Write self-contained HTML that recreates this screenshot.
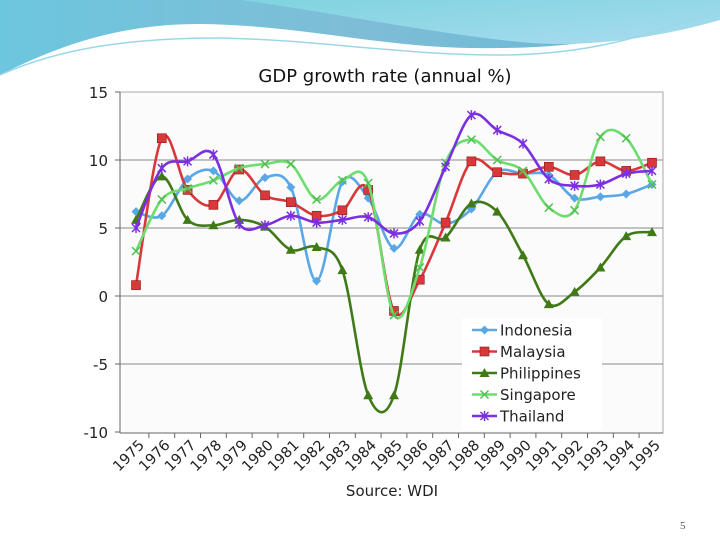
<!DOCTYPE html>
<html><head><meta charset="utf-8"><style>
body{margin:0;background:#fff;}
svg{display:block;font-family:"DejaVu Sans","Liberation Sans",sans-serif;}
</style></head><body>
<svg id="s" width="720" height="540" viewBox="0 0 720 540">
<defs>
<linearGradient id="g1" x1="0" y1="0" x2="1" y2="0"><stop offset="0" stop-color="#6cc6de"/><stop offset="0.5" stop-color="#7fbdd6"/><stop offset="1" stop-color="#5fb8d8"/></linearGradient>
<linearGradient id="g2" x1="0" y1="0" x2="1" y2="1"><stop offset="0" stop-color="#7fd3e0"/><stop offset="1" stop-color="#a8dcef"/></linearGradient>
</defs>
<g>
<path d="M0,0 H720 V10 C650,30 600,50 470,48 C380,47 300,25 200,24 C120,24 60,45 0,75 Z" fill="url(#g1)"/>
<path d="M240,0 H720 V20 C650,40 580,48 520,42 C420,32 320,10 240,0 Z" fill="url(#g2)"/>
<path d="M0,75 C60,48 130,38 220,38 C320,40 400,55 500,55 C600,55 660,30 720,10" fill="none" stroke="#9ad8e6" stroke-width="1.5"/>
</g>
<text x="385" y="82" text-anchor="middle" font-size="18" fill="#111">GDP growth rate (annual %)</text>
<rect x="120" y="92" width="543" height="341" fill="#fbfbfb" stroke="#aaa" stroke-width="1"/>
<g id="grid"></g><g id="axes"></g><g id="series"></g>
<g id="legend"></g>
<text x="392" y="496" text-anchor="middle" font-size="15" fill="#222">Source: WDI</text>
<text x="680" y="529" font-size="11" fill="#555" font-family="Liberation Serif,serif">5</text>
</svg>
<script>
const years=["1975","1976","1977","1978","1979","1980","1981","1982","1983","1984","1985","1986","1987","1988","1989","1990","1991","1992","1993","1994","1995"];
const yTicks=[15,10,5,0,-5,-10];
const seriesNames=["Indonesia","Malaysia","Philippines","Singapore","Thailand"];
const indonesia=[6.2,5.9,8.6,9.2,7.0,8.7,8.0,1.1,8.4,7.2,3.5,6.0,5.3,6.4,9.1,9.0,8.9,7.2,7.3,7.5,8.2];
const malaysia=[0.8,11.6,7.8,6.7,9.3,7.4,6.9,5.9,6.3,7.8,-1.1,1.2,5.4,9.9,9.1,9.0,9.5,8.9,9.9,9.2,9.8];
const philippines=[5.6,8.8,5.6,5.2,5.6,5.1,3.4,3.6,1.9,-7.3,-7.3,3.4,4.3,6.8,6.2,3.0,-0.6,0.3,2.1,4.4,4.7];
const singapore=[3.3,7.1,7.9,8.5,9.4,9.7,9.7,7.1,8.5,8.3,-1.4,2.1,9.8,11.5,10.0,9.2,6.5,6.3,11.7,11.6,8.2];
const thailand=[5.0,9.4,9.9,10.4,5.3,5.2,5.9,5.4,5.6,5.8,4.6,5.5,9.5,13.3,12.2,11.2,8.6,8.1,8.2,9.0,9.2];
const NS="http://www.w3.org/2000/svg";
const X=i=>136+i*(652-136)/(years.length-1);
const Y=v=>296-v*(296-92)/15;
function mk(t,a,p){const e=document.createElementNS(NS,t);for(const k in a)e.setAttribute(k,a[k]);p.appendChild(e);return e;}
const grid=document.getElementById('grid'),axes=document.getElementById('axes'),ser=document.getElementById('series'),leg=document.getElementById('legend');
yTicks.forEach(v=>{
 if(v>-10&&v<15){const l=mk('line',{x1:120,x2:663,y1:Y(v),y2:Y(v),stroke:'#888','stroke-width':1},grid);
 
 }
 const tk=mk('line',{x1:115,x2:120,y1:Y(v),y2:Y(v),stroke:'#666'},axes);
 
 
 const t=mk('text',{x:108,y:Y(v)+6,'text-anchor':'end','font-size':15,fill:'#222'},axes);t.textContent=v;
 
 
});
const ax=mk('line',{x1:120,x2:120,y1:92,y2:433,stroke:'#666'},axes);


const bx=mk('line',{x1:120,x2:663,y1:433,y2:433,stroke:'#666'},axes);


years.forEach((yr,i)=>{
 const tx=X(i)+(X(1)-X(0))/2;
 if(i<years.length-1){const tk=mk('line',{x1:tx,x2:tx,y1:433,y2:438,stroke:'#666'},axes);
 
 }
 const t=mk('text',{x:X(i)+9,y:446,'text-anchor':'end','font-size':14.5,fill:'#222',transform:`rotate(-45 ${X(i)+9} 446)`},axes);t.textContent=yr;
 
 
});
function smooth(pts){let d=`M${pts[0][0]},${pts[0][1]}`;for(let i=0;i<pts.length-1;i++){const p0=pts[i-1]||pts[i],p1=pts[i],p2=pts[i+1],p3=pts[i+2]||p2;const t=0.5/3;
 d+=` C${p1[0]+(p2[0]-p0[0])*t},${p1[1]+(p2[1]-p0[1])*t} ${p2[0]-(p3[0]-p1[0])*t},${p2[1]-(p3[1]-p1[1])*t} ${p2[0]},${p2[1]}`;}return d;}
const data=[indonesia,malaysia,philippines,singapore,thailand];
const cols=["#5aa7e6","#d9383a","#3f7a16","#6fdc6f","#7a2fe0"];
const mcol=["#5aa7e6","#d9383a","#3f7a16","#50c050","#7a2fe0"];
function marker(k,x,y,p){
 if(k==0)return mk('path',{d:`M${x},${y-4.5}L${x+4.5},${y}L${x},${y+4.5}L${x-4.5},${y}Z`,fill:mcol[0]},p);
 if(k==1)return mk('rect',{x:x-4.5,y:y-4.5,width:9,height:9,fill:mcol[1],stroke:'#8a1a1a','stroke-width':0.6},p);
 if(k==2)return mk('path',{d:`M${x},${y-5}L${x+5},${y+4}L${x-5},${y+4}Z`,fill:mcol[2]},p);
 if(k==3)return mk('path',{d:`M${x-4},${y-4}L${x+4},${y+4}M${x+4},${y-4}L${x-4},${y+4}`,stroke:mcol[3],'stroke-width':1.5},p);
 return mk('path',{d:`M${x-4},${y-4}L${x+4},${y+4}M${x+4},${y-4}L${x-4},${y+4}M${x},${y-5}L${x},${y+5}`,stroke:mcol[4],'stroke-width':1.5},p);
}
data.forEach((arr,k)=>{
 const g=mk('g',{},ser);
 
 
 const pts=arr.map((v,i)=>[X(i),Y(v)]);
 mk('path',{d:smooth(pts),fill:'none',stroke:cols[k],'stroke-width':2.6},g);
 pts.forEach(p=>{const m=marker(k,p[0],p[1],g);
 
 });
});
mk('rect',{x:462,y:318,width:140,height:112,fill:'#fff'},leg);
seriesNames.forEach((n,k)=>{
 const y=330+k*21.5;
 const g=mk('g',{},leg);
 
 
 mk('line',{x1:472,x2:497,y1:y,y2:y,stroke:cols[k],'stroke-width':2.6},g);
 marker(k,484.5,y,g);
 const t=mk('text',{x:500,y:y+5.5,'font-size':15,fill:'#222'},g);t.textContent=n;
});
</script>
</body></html>
